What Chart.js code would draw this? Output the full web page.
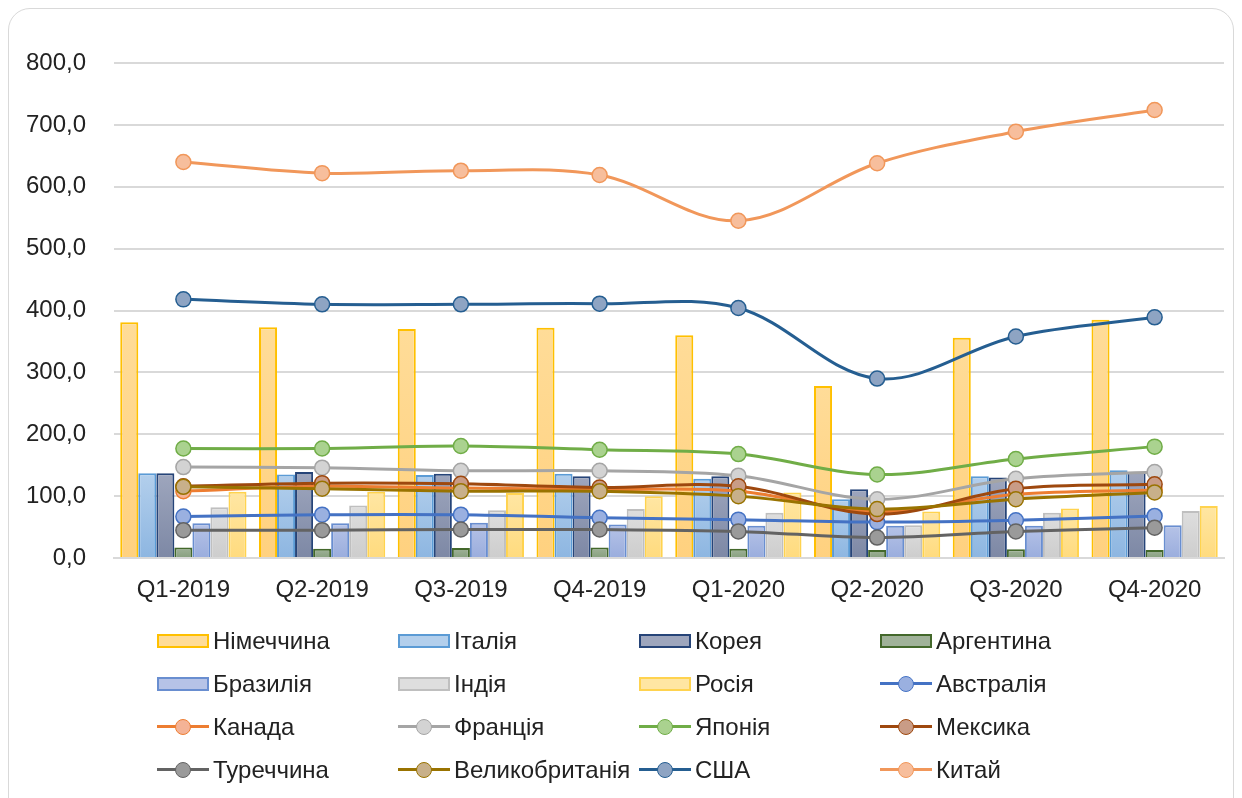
<!DOCTYPE html>
<html>
<head>
<meta charset="utf-8">
<script src="https://cdn.jsdelivr.net/npm/chart.js@4/dist/chart.umd.min.js"></script>
<style>
  html, body { margin: 0; padding: 0; background: #fff; }
  body { width: 1242px; height: 798px; position: relative; overflow: hidden; font-family: "Liberation Sans", Arial, sans-serif; }
  .card { position: absolute; left: 8px; top: 8px; width: 1226px; height: 820px; border: 1px solid #d9d9d9; border-radius: 22px; box-sizing: border-box; }
  #chartBox { position: absolute; left: 0; top: 0; width: 1242px; height: 620px; }
  #legend { position: absolute; left: 157px; top: 619px; display: grid; grid-template-columns: repeat(4, 241px); grid-auto-rows: 43px; }
  .item { display: flex; align-items: center; font-size: 24px; color: #222; white-space: nowrap; }
  .sym { width: 52px; height: 16px; margin-right: 4px; position: relative; flex: none; }
  .sym.bar span { position: absolute; left: 0; top: 1px; width: 52px; height: 14px; box-sizing: border-box; border: 2px solid; }
  .sym.line .ln { position: absolute; left: 0; top: 6px; width: 52px; height: 3px; }
  .sym.line .pt { position: absolute; left: 18px; top: 0; width: 16px; height: 16px; box-sizing: border-box; border: 1.5px solid; border-radius: 50%; }
</style>
</head>
<body>
<div class="card"></div>
<div id="chartBox"><canvas id="mixChart" width="1242" height="620"></canvas></div>
<div id="legend"></div>
<script>
var categories = ['Q1-2019', 'Q2-2019', 'Q3-2019', 'Q4-2019', 'Q1-2020', 'Q2-2020', 'Q3-2020', 'Q4-2020'];
var yTicks = [0, 100, 200, 300, 400, 500, 600, 700, 800];

// bars
var germany   = [381, 373, 370, 372, 360, 278, 356, 385];
var italy     = [137, 135, 134, 136, 128, 95, 132, 142];
var korea     = [137, 139, 136, 132, 132, 111, 130, 139];
var argentina = [17, 15, 16, 17, 15, 13, 14, 13];
var brazil    = [56, 56, 57, 54, 52, 52, 52, 53];
var india     = [82, 85, 77, 79, 73, 53, 73, 76];
var russia    = [107, 107, 105, 100, 106, 75, 80, 84];

// lines
var australia = [67, 70, 70, 65, 62, 58, 61, 68];
var canada    = [108, 116, 113, 111, 108, 75, 103, 110];
var france    = [147, 146, 141, 141, 133, 95, 128, 139];
var japan     = [177, 177, 181, 175, 168, 135, 160, 180];
var mexico    = [116, 121, 120, 114, 116, 71, 112, 119];
var turkey    = [45, 45, 46, 46, 43, 33, 43, 49];
var uk        = [115, 112, 108, 108, 100, 79, 95, 106];
var usa       = [418, 410, 410, 411, 404, 290, 358, 389];
var china     = [640, 622, 626, 619, 545, 638, 689, 724];

// vertical gradient per bar, light at the top, a bit darker at the base
function bar(label, data, light, dark, border) {
    return {
        type: 'bar', label: label, data: data, borderColor: border, borderWidth: 2, order: 100,
        legendFill: light,
        backgroundColor: function (c) {
            var ch = c.chart;
            if (c.type !== 'data' || !ch.scales.y) return light;
            var top = ch.scales.y.getPixelForValue(c.raw);
            var bot = ch.scales.y.getPixelForValue(0);
            if (!isFinite(top) || top === bot) return light;
            var g = ch.ctx.createLinearGradient(0, top, 0, bot);
            g.addColorStop(0, light);
            g.addColorStop(1, dark);
            return g;
        }
    };
}
function line(label, data, color, fill, order) {
    return { type: 'line', label: label, data: data, borderColor: color, backgroundColor: fill,
             borderWidth: 3, tension: 0.35, pointRadius: 7.5, pointBorderWidth: 1.5,
             pointBackgroundColor: fill, pointBorderColor: color, fill: false, order: order };
}

var datasets = [
    bar('Німеччина', germany, '#FFDC98', '#FFD17F', '#FFC000'),
    bar('Італія', italy, '#B3CFEC', '#8DB6E1', '#5B9BD5'),
    bar('Корея', korea, '#9EA6BD', '#7D88A5', '#264478'),
    bar('Аргентина', argentina, '#A0B299', '#87A07F', '#43682B'),
    bar('Бразилія', brazil, '#B6C3E7', '#9AADDD', '#698ED0'),
    bar('Індія', india, '#DEDEDE', '#CDCDCD', '#BFBFBF'),
    bar('Росія', russia, '#FFE6A3', '#FFDB7E', '#FFD34F'),
    line('Австралія', australia, '#4472C4', '#9AB0E0', 9),
    line('Канада', canada, '#ED7D31', '#F4B396', 8),
    line('Франція', france, '#A5A5A5', '#D3D3D3', 7),
    line('Японія', japan, '#70AD47', '#AAD28F', 6),
    line('Мексика', mexico, '#9E480E', '#C99C86', 5),
    line('Туреччина', turkey, '#636363', '#9A9A9A', 4),
    line('Великобританія', uk, '#997300', '#C8B08A', 3),
    line('США', usa, '#255E91', '#8EA4C3', 2),
    line('Китай', china, '#F1975A', '#F7BE9C', 1)
];

Chart.defaults.font.family = '"Liberation Sans", Arial, sans-serif';
Chart.defaults.color = '#222';

var ctx = document.getElementById('mixChart').getContext('2d');
var mixChart = new Chart(ctx, {
    type: 'bar',
    data: { labels: categories, datasets: datasets },
    options: {
        responsive: false,
        animation: false,
        layout: { padding: { left: 26, right: 18, top: 63, bottom: 17 } },
        datasets: { bar: { categoryPercentage: 0.91, barPercentage: 1 } },
        plugins: { legend: { display: false }, tooltip: { enabled: false } },
        scales: {
            x: {
                grid: { display: false, drawTicks: false },
                border: { display: true, color: '#d9d9d9', width: 2 },
                ticks: { font: { size: 24 }, padding: 18, maxRotation: 0 },
                afterFit: function (axis) { axis.height = 45; }
            },
            y: {
                min: yTicks[0], max: yTicks[yTicks.length - 1],
                afterBuildTicks: function (axis) { axis.ticks = yTicks.map(function (v) { return { value: v }; }); },
                grid: { color: '#d9d9d9', lineWidth: 2, drawTicks: false },
                border: { display: false },
                ticks: { font: { size: 24 }, padding: 28,
                         callback: function (v) { return v.toFixed(1).replace('.', ','); } },
                afterFit: function (axis) { axis.width = 88; }
            }
        }
    }
});

// legend in a 4-column grid, built from the datasets
var legendBox = document.getElementById('legend');
datasets.forEach(function (ds) {
    var item = document.createElement('div');
    item.className = 'item';
    var sym = document.createElement('div');
    if (ds.type === 'bar') {
        sym.className = 'sym bar';
        sym.innerHTML = '<span style="background:' + ds.legendFill + ';border-color:' + ds.borderColor + '"></span>';
    } else {
        sym.className = 'sym line';
        sym.innerHTML = '<div class="ln" style="background:' + ds.borderColor + '"></div>' +
            '<div class="pt" style="background:' + ds.backgroundColor + ';border-color:' + ds.borderColor + '"></div>';
    }
    item.appendChild(sym);
    item.appendChild(document.createTextNode(ds.label));
    legendBox.appendChild(item);
});
</script>
</body>
</html>
